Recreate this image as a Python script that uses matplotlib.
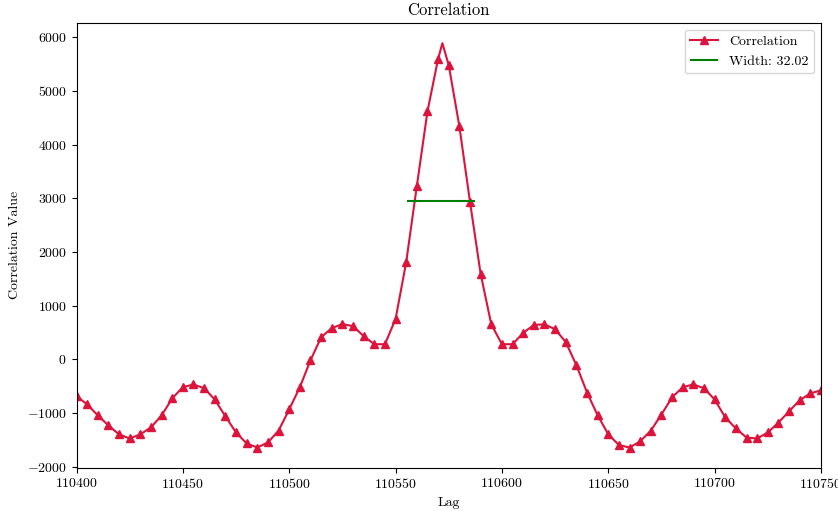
import numpy as np
import matplotlib
matplotlib.use('Agg')
import matplotlib.pyplot as plt

plt.rcParams['font.family'] = 'serif'
plt.rcParams['font.serif'] = ['cmr10']
plt.rcParams['mathtext.fontset'] = 'cm'
plt.rcParams['axes.formatter.use_mathtext'] = True
plt.rcParams['axes.unicode_minus'] = True

# correlation sampled every 5 lags, plus the peak sample
lags = [110400, 110405, 110410, 110415, 110420, 110425, 110430, 110435, 110440, 110445,
        110450, 110455, 110460, 110465, 110470, 110475, 110480, 110485, 110490, 110495,
        110500, 110505, 110510, 110515, 110520, 110525, 110530, 110535, 110540, 110545,
        110550, 110555, 110560, 110565, 110570, 110572, 110575, 110580, 110585, 110590,
        110595, 110600, 110605, 110610, 110615, 110620, 110625, 110630, 110635, 110640,
        110645, 110650, 110655, 110660, 110665, 110670, 110675, 110680, 110685, 110690,
        110695, 110700, 110705, 110710, 110715, 110720, 110725, 110730, 110735, 110740,
        110745, 110750]
corr = [-690, -840, -1047, -1234, -1400, -1477, -1400, -1270, -1047, -730,
        -520, -470, -540, -750, -1065, -1365, -1570, -1645, -1550, -1330,
        -935, -520, -20, 410, 580, 655, 617, 430, 280, 280,
        750, 1810, 3230, 4620, 5600, 5890, 5480, 4340, 2930, 1590,
        650, 280, 280, 490, 640, 650, 560, 320, -110, -620,
        -1045, -1400, -1600, -1645, -1530, -1330, -1030, -710, -520, -470,
        -540, -750, -1085, -1290, -1460, -1477, -1365, -1180, -970, -765,
        -635, -580]

width = 32.02
half_max = 2940
width_start = 110555.4

lags = np.array(lags)
corr = np.array(corr)
marks = [i for i, l in enumerate(lags) if l % 5 == 0]

fig = plt.figure(figsize=(8.38, 5.11), dpi=100)
ax = fig.add_axes([0.0913, 0.0847, 0.8884, 0.8703])

ax.plot(lags, corr, color='crimson', lw=1.5, marker='^', markersize=6,
        markevery=marks, label='Correlation')
ax.hlines(half_max, width_start, width_start + width, colors='green', lw=1.5,
          label=f'Width: {width:.2f}')

ax.set_xlim(110400, 110750)
ax.set_title('Correlation', fontsize=12)
ax.set_xlabel('Lag')
ax.set_ylabel('Correlation Value')
ax.legend(loc='upper right')

fig.savefig('out.png', dpi=100)
